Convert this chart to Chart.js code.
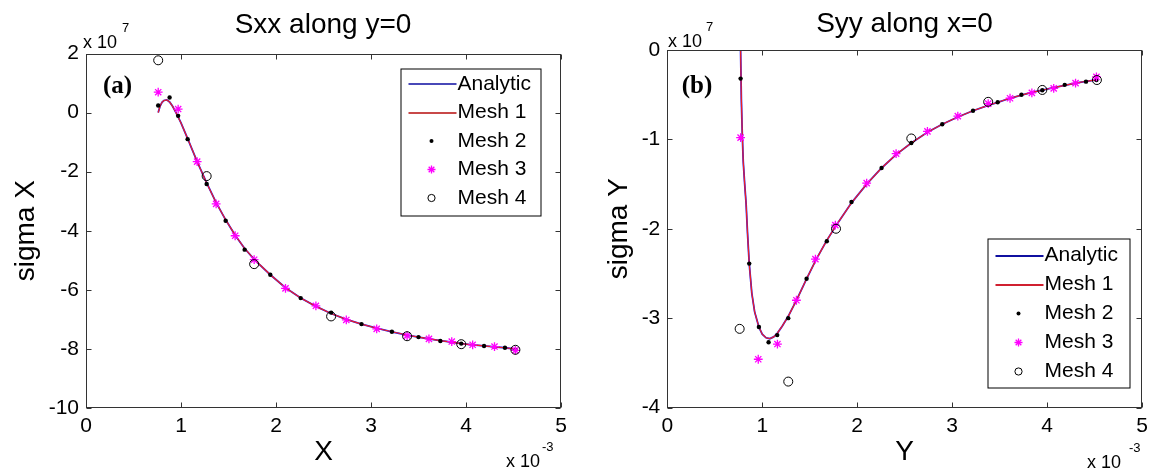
<!DOCTYPE html>
<html><head><meta charset="utf-8">
<script src="https://cdn.jsdelivr.net/npm/chart.js@4.4.1/dist/chart.umd.min.js"></script>
<style>
html,body{margin:0;padding:0;background:#fff;overflow:hidden}
#wrap{position:relative;width:1154px;height:473px;background:#fff}
canvas{position:absolute;top:0}
</style></head><body>
<div id="wrap">
<canvas id="c1" width="577" height="473" style="left:0"></canvas>
<canvas id="c2" width="577" height="473" style="left:577px"></canvas>
</div>
<script>
// ---- data (x in units of 1e-3, stress in units of 1e7) ----
const xTickValues = [0, 1, 2, 3, 4, 5];
const sxxTickValues = [-10, -8, -6, -4, -2, 0, 2];
const syyTickValues = [-4, -3, -2, -1, 0];
const seriesNames = ['Analytic', 'Mesh 1', 'Mesh 2', 'Mesh 3', 'Mesh 4'];

// (a) Sxx along y=0
const sxxAnalyticX = [0.76, 0.78, 0.80, 0.82, 0.85, 0.88, 0.91, 0.95, 1.00, 1.07, 1.17, 1.27, 1.37, 1.47, 1.57, 1.67, 1.78, 1.94, 2.10, 2.26, 2.42, 2.58, 2.74, 2.90, 3.06, 3.22, 3.38, 3.50, 3.61, 3.73, 3.85, 3.95, 4.07, 4.19, 4.30, 4.41, 4.52];
const sxxAnalyticY = [0.00, 0.22, 0.35, 0.41, 0.43, 0.36, 0.22, -0.02, -0.35, -0.88, -1.66, -2.38, -3.05, -3.63, -4.15, -4.60, -5.00, -5.49, -5.93, -6.28, -6.56, -6.80, -7.00, -7.16, -7.30, -7.42, -7.53, -7.60, -7.66, -7.72, -7.77, -7.82, -7.86, -7.90, -7.93, -7.96, -8.01];
const sxxMesh1X = [0.76, 0.78, 0.80, 0.82, 0.85, 0.88, 0.91, 0.95, 1.00, 1.07, 1.17, 1.27, 1.37, 1.47, 1.57, 1.67, 1.78, 1.94, 2.10, 2.26, 2.42, 2.58, 2.74, 2.90, 3.06, 3.22, 3.38, 3.50, 3.61, 3.73, 3.85, 3.95, 4.07, 4.19, 4.30, 4.41, 4.52];
const sxxMesh1Y = [0.00, 0.22, 0.35, 0.41, 0.43, 0.36, 0.22, -0.02, -0.35, -0.88, -1.66, -2.38, -3.05, -3.63, -4.15, -4.60, -5.00, -5.49, -5.93, -6.28, -6.56, -6.80, -7.00, -7.16, -7.30, -7.42, -7.53, -7.60, -7.66, -7.72, -7.77, -7.82, -7.86, -7.90, -7.93, -7.96, -8.01];
const sxxMesh2X = [0.76, 0.88, 0.97, 1.07, 1.27, 1.47, 1.67, 1.94, 2.26, 2.58, 2.90, 3.22, 3.50, 3.73, 3.95, 4.19, 4.41, 4.52];
const sxxMesh2Y = [0.24, 0.51, -0.11, -0.90, -2.42, -3.66, -4.64, -5.49, -6.28, -6.77, -7.16, -7.42, -7.60, -7.73, -7.82, -7.90, -7.96, -8.03];
const sxxMesh3X = [0.76, 0.97, 1.17, 1.37, 1.57, 1.77, 2.10, 2.42, 2.74, 3.06, 3.38, 3.61, 3.85, 4.07, 4.30, 4.52];
const sxxMesh3Y = [0.69, 0.12, -1.66, -3.09, -4.17, -4.98, -5.95, -6.54, -7.02, -7.32, -7.55, -7.66, -7.75, -7.86, -7.92, -8.05];
const sxxMesh4X = [0.76, 1.27, 1.77, 2.58, 3.38, 3.95, 4.52];
const sxxMesh4Y = [1.77, -2.15, -5.13, -6.90, -7.57, -7.84, -8.03];

// (b) Syy along x=0
const syyAnalyticX = [0.765, 0.772, 0.78, 0.79, 0.80, 0.815, 0.83, 0.845, 0.863, 0.89, 0.92, 0.965, 1.00, 1.04, 1.08, 1.12, 1.158, 1.21, 1.274, 1.37, 1.467, 1.57, 1.68, 1.78, 1.94, 2.10, 2.257, 2.41, 2.57, 2.74, 2.896, 3.06, 3.22, 3.38, 3.48, 3.61, 3.73, 3.84, 3.95, 4.07, 4.186, 4.30, 4.41, 4.52];
const syyAnalyticY = [0.30, 0.00, -0.55, -0.95, -1.25, -1.50, -1.72, -2.05, -2.39, -2.72, -2.93, -3.10, -3.18, -3.22, -3.23, -3.21, -3.17, -3.09, -2.98, -2.78, -2.56, -2.34, -2.13, -1.96, -1.71, -1.50, -1.32, -1.17, -1.04, -0.92, -0.83, -0.75, -0.68, -0.62, -0.585, -0.54, -0.505, -0.475, -0.45, -0.42, -0.395, -0.37, -0.35, -0.335];
const syyMesh1X = [0.765, 0.772, 0.78, 0.79, 0.80, 0.815, 0.83, 0.845, 0.863, 0.89, 0.92, 0.965, 1.00, 1.04, 1.08, 1.12, 1.158, 1.21, 1.274, 1.37, 1.467, 1.57, 1.68, 1.78, 1.94, 2.10, 2.257, 2.41, 2.57, 2.74, 2.896, 3.06, 3.22, 3.38, 3.48, 3.61, 3.73, 3.84, 3.95, 4.07, 4.186, 4.30, 4.41, 4.52];
const syyMesh1Y = [0.30, 0.00, -0.55, -0.95, -1.25, -1.50, -1.72, -2.05, -2.39, -2.72, -2.93, -3.10, -3.18, -3.22, -3.23, -3.21, -3.17, -3.09, -2.98, -2.78, -2.56, -2.34, -2.13, -1.96, -1.71, -1.50, -1.32, -1.17, -1.04, -0.92, -0.83, -0.75, -0.68, -0.62, -0.585, -0.54, -0.505, -0.475, -0.45, -0.42, -0.395, -0.37, -0.35, -0.335];
const syyMesh2X = [0.772, 0.863, 0.965, 1.067, 1.158, 1.274, 1.467, 1.68, 1.94, 2.257, 2.57, 2.896, 3.22, 3.48, 3.73, 3.95, 4.186, 4.41, 4.52];
const syyMesh2Y = [-0.32, -2.39, -3.10, -3.27, -3.19, -3.00, -2.56, -2.14, -1.70, -1.32, -1.04, -0.83, -0.68, -0.585, -0.50, -0.45, -0.39, -0.354, -0.336];
const syyMesh3X = [0.772, 0.958, 1.16, 1.36, 1.56, 1.77, 2.10, 2.41, 2.74, 3.06, 3.38, 3.61, 3.84, 4.07, 4.30, 4.52];
const syyMesh3Y = [-0.98, -3.46, -3.29, -2.80, -2.34, -1.96, -1.49, -1.16, -0.91, -0.74, -0.60, -0.54, -0.48, -0.43, -0.37, -0.30];
const syyMesh4X = [0.762, 1.274, 1.777, 2.57, 3.38, 3.95, 4.525];
const syyMesh4Y = [-3.12, -3.71, -2.00, -0.99, -0.58, -0.447, -0.336];

// ---- rendering ----
const SANS = '"Liberation Sans", Arial, Helvetica, sans-serif';
const SERIF = '"Liberation Serif", "Times New Roman", serif';
const BLUE = '#1a1aff', RED = '#f02020', MAGENTA = '#ff00ff';
Chart.defaults.color = '#000';
Chart.defaults.font.family = SANS;

function pts(xs, ys) { return xs.map((x, i) => ({ x: x, y: ys[i] })); }

const framePlugin = {
  id: 'frame',
  afterDatasetsDraw(chart, args, o) {
    const { ctx, chartArea: a, scales: { x, y } } = chart;
    ctx.save();
    // box + inward ticks
    ctx.strokeStyle = '#333'; ctx.lineWidth = 1;
    const L = Math.round(a.left) + 0.5, R = Math.round(a.right) - 0.5, T = Math.round(a.top) + 0.5, B = Math.round(a.bottom) - 0.5;
    ctx.strokeRect(L, T, R - L, B - T);
    ctx.beginPath();
    x.ticks.forEach(t => { const px = Math.round(x.getPixelForValue(t.value)) + 0.5; ctx.moveTo(px, B); ctx.lineTo(px, B - 5); ctx.moveTo(px, T); ctx.lineTo(px, T + 5); });
    y.ticks.forEach(t => { const py = Math.round(y.getPixelForValue(t.value)) + 0.5; ctx.moveTo(L, py); ctx.lineTo(L + 5, py); ctx.moveTo(R, py); ctx.lineTo(R - 5, py); });
    ctx.stroke();
    // legend
    const lg = o.legend;
    ctx.fillStyle = '#fff'; ctx.fillRect(lg.x, lg.y, lg.w, lg.h);
    ctx.strokeStyle = '#000'; ctx.lineWidth = 1; ctx.strokeRect(lg.x + 0.5, lg.y + 0.5, lg.w, lg.h);
    const legendLineColors = [lg.c0, lg.c1];
    chart.data.datasets.forEach((ds, i) => {
      const cy = lg.y + lg.row0 + i * lg.gap;
      if (i < 2) {
        ctx.strokeStyle = legendLineColors[i]; ctx.lineWidth = 2;
        ctx.beginPath(); ctx.moveTo(lg.x + 8, Math.round(cy)); ctx.lineTo(lg.x + 56, Math.round(cy)); ctx.stroke();
      } else {
        ctx.fillStyle = ds.backgroundColor; ctx.strokeStyle = ds.borderColor; ctx.lineWidth = ds.borderWidth;
        Chart.helpers.drawPoint(ctx, { pointStyle: ds.pointStyle, radius: ds.legendRadius, borderWidth: ds.borderWidth, rotation: 0 }, lg.x + 31, cy);
      }
      ctx.fillStyle = '#000'; ctx.font = '21px ' + SANS; ctx.textBaseline = 'middle'; ctx.textAlign = 'left';
      ctx.fillText(ds.label, lg.x + 57, cy);
    });
    ctx.restore();
  },
  afterDraw(chart, args, o) {
    const ctx = chart.ctx;
    ctx.save();
    ctx.fillStyle = '#000'; ctx.textBaseline = 'alphabetic';
    ctx.font = '28px ' + SANS; ctx.textAlign = 'center';
    ctx.fillText(o.title.text, o.title.x, o.title.y);
    ctx.textAlign = 'left';
    ctx.font = '18px ' + SANS;
    ctx.fillText('x 10', o.expY.x, o.expY.y);
    ctx.fillText('x 10', o.expX.x, o.expX.y);
    ctx.font = '13px ' + SANS;
    ctx.fillText(o.expY.sup, o.expY.sx, o.expY.sy);
    ctx.fillText(o.expX.sup, o.expX.sx, o.expX.sy);
    ctx.font = 'bold 25px ' + SERIF;
    ctx.fillText(o.panel.text, o.panel.x, o.panel.y);
    ctx.restore();
  }
};

function makeChart(id, c) {
  const tickFont = { family: SANS, size: 21 };
  const titleFont = { family: SANS, size: 28 };
  return new Chart(document.getElementById(id), {
    type: 'scatter',
    data: {
      datasets: [
        { label: seriesNames[0], data: pts(c.ax, c.ay), showLine: true, borderColor: BLUE, borderWidth: 1.8, pointRadius: 0, order: 5 },
        { label: seriesNames[1], data: pts(c.m1x, c.m1y), showLine: true, borderColor: RED, borderWidth: 1.2, pointRadius: 0, order: 4 },
        { label: seriesNames[2], data: pts(c.m2x, c.m2y), showLine: false, pointStyle: 'circle', pointRadius: 2.2, legendRadius: 2, backgroundColor: '#000', borderColor: '#000', borderWidth: 0, order: 3 },
        { label: seriesNames[3], data: pts(c.m3x, c.m3y), showLine: false, pointStyle: 'star', pointRadius: 4.4, legendRadius: 4, backgroundColor: MAGENTA, borderColor: MAGENTA, borderWidth: 1.3, order: 2 },
        { label: seriesNames[4], data: pts(c.m4x, c.m4y), showLine: false, pointStyle: 'circle', pointRadius: 4.5, legendRadius: 3.6, backgroundColor: 'rgba(0,0,0,0)', borderColor: '#000', borderWidth: 1, order: 1 }
      ]
    },
    options: {
      responsive: false, animation: false, events: [],
      layout: { padding: { left: 0, top: c.top, right: c.padRight, bottom: 0 } },
      plugins: { legend: { display: false }, tooltip: { enabled: false }, title: { display: false }, frame: c.frame },
      scales: {
        x: {
          type: 'linear', min: 0, max: 5,
          afterBuildTicks(s) { s.ticks = xTickValues.map(v => ({ value: v })); },
          ticks: { padding: 6, font: tickFont, color: '#000', maxRotation: 0, autoSkip: false },
          grid: { display: false, drawTicks: false }, border: { display: false },
          title: { display: true, text: c.xTitle, font: titleFont, color: '#000', padding: { top: 0, bottom: 4 } },
          afterFit(s) { s.height = c.xH; }
        },
        y: {
          type: 'linear', min: c.yTicks[0], max: c.yTicks[c.yTicks.length - 1],
          afterBuildTicks(s) { s.ticks = c.yTicks.map(v => ({ value: v })); },
          ticks: { padding: 7, font: tickFont, color: '#000', autoSkip: false },
          grid: { display: false, drawTicks: false }, border: { display: false },
          title: { display: true, text: c.yTitle, font: titleFont, color: '#000', padding: { top: c.yTitlePad, bottom: 0 } },
          afterFit(s) { s.width = c.yW; }
        }
      }
    },
    plugins: [framePlugin]
  });
}

makeChart('c1', {
  ax: sxxAnalyticX, ay: sxxAnalyticY, m1x: sxxMesh1X, m1y: sxxMesh1Y, m2x: sxxMesh2X, m2y: sxxMesh2Y,
  m3x: sxxMesh3X, m3y: sxxMesh3Y, m4x: sxxMesh4X, m4y: sxxMesh4Y,
  yTicks: sxxTickValues, xTitle: 'X', yTitle: 'sigma X',
  top: 53.5, padRight: 16, xH: 65, yW: 86, yTitlePad: 9,
  frame: {
    title: { text: 'Sxx along y=0', x: 323, y: 32.5 },
    expY: { x: 83, y: 48, sup: '7', sx: 122, sy: 32 },
    expX: { x: 506, y: 467, sup: '-3', sx: 542, sy: 451 },
    panel: { text: '(a)', x: 103, y: 92.5 },
    legend: { x: 400.5, y: 68.5, w: 140, h: 147, row0: 15.5, gap: 28.5, c0: '#4848b8', c1: '#c84848' }
  }
});

makeChart('c2', {
  ax: syyAnalyticX, ay: syyAnalyticY, m1x: syyMesh1X, m1y: syyMesh1Y, m2x: syyMesh2X, m2y: syyMesh2Y,
  m3x: syyMesh3X, m3y: syyMesh3Y, m4x: syyMesh4X, m4y: syyMesh4Y,
  yTicks: syyTickValues, xTitle: 'Y', yTitle: 'sigma Y',
  top: 50, padRight: 12, xH: 65.5, yW: 90.3, yTitlePad: 25,
  frame: {
    title: { text: 'Syy along x=0', x: 327.5, y: 32 },
    expY: { x: 91, y: 47, sup: '7', sx: 129, sy: 31 },
    expX: { x: 510, y: 468, sup: '-3', sx: 552, sy: 452 },
    panel: { text: '(b)', x: 104.7, y: 92.5 },
    legend: { x: 410.5, y: 238.5, w: 142, h: 149, row0: 17, gap: 29, c0: '#1010a0', c1: '#d02030' }
  }
});
</script>
</body></html>
